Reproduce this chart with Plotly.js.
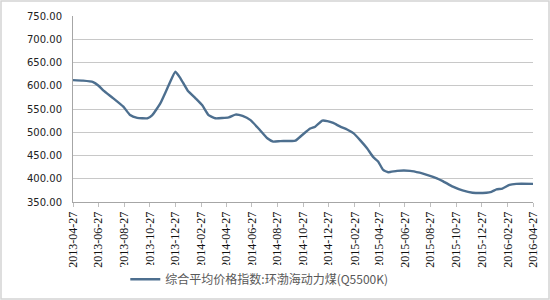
<!DOCTYPE html>
<html>
<head>
<meta charset="utf-8">
<script src="https://cdn.plot.ly/plotly-3.0.1.min.js"></script>
<style>html,body{margin:0;padding:0;background:#fff;}#chart{width:550px;height:300px;}</style>
</head>
<body>
<div id="chart"></div>
<script>
const dates = ['2013-04-27','2013-05-21','2013-06-14','2013-06-27','2013-07-08','2013-08-01','2013-08-25','2013-09-10','2013-09-27','2013-10-21','2013-11-02','2013-11-21','2013-12-08','2013-12-27','2014-01-08','2014-01-25','2014-02-13','2014-03-01','2014-03-16','2014-04-01','2014-05-03','2014-05-19','2014-06-05','2014-06-24','2014-07-13','2014-08-03','2014-08-17','2014-09-03','2014-10-09','2014-10-25','2014-11-13','2014-11-25','2014-12-12','2014-12-24','2015-01-07','2015-01-24','2015-02-09','2015-02-24','2015-03-12','2015-03-29','2015-04-12','2015-04-24','2015-05-06','2015-05-18','2015-06-08','2015-07-09','2015-08-01','2015-08-20','2015-09-11','2015-09-25','2015-10-19','2015-11-11','2015-12-05','2016-01-07','2016-01-19','2016-01-31','2016-02-14','2016-03-02','2016-03-18','2016-04-27'];
const values = [612,611,608,600,590,573,555,537,531,530,537,562,595,630,616,590,573,558,537,530,532,538,535,526,508,487,480,481,482,494,508,512,525,524,520,512,506,498,483,465,447,437,419,414,417,417,413,408,401,395,383,375,370,370,372,377,379,387,389,389];
const tickDates = ['2013-04-27','2013-06-27','2013-08-27','2013-10-27','2013-12-27','2014-02-27','2014-04-27','2014-06-27','2014-08-27','2014-10-27','2014-12-27','2015-02-27','2015-04-27','2015-06-27','2015-08-27','2015-10-27','2015-12-27','2016-02-27','2016-04-27'];
const seriesName = '综合平均价格指数:环渤海动力煤(Q5500K)';

const trace = {
  x: dates, y: values, type: 'scatter', mode: 'lines', name: seriesName,
  line: {color: '#4d6f8f', width: 2.4, shape: 'spline', smoothing: 0.4}
};
const W = 460, H = 186;
const layout = {
  width: 550, height: 300,
  margin: {l: 73, r: 17, t: 16, b: 98, autoexpand: false},
  paper_bgcolor: '#fff', plot_bgcolor: '#fff',
  showlegend: true,
  legend: {orientation: 'h', x: 0.405, xanchor: 'center', y: -0.415, yanchor: 'middle',
           font: {family: 'Noto Sans CJK SC', size: 12, color: '#595959'}},
  xaxis: {type: 'date', range: ['2013-04-27','2016-04-27'], tickvals: tickDates, ticktext: tickDates,
          tickangle: -90, ticks: 'outside', ticklen: 4, tickcolor: '#bfbfbf', automargin: false,
          showline: true, linecolor: '#a6a6a6', showgrid: false, zeroline: false,
          tickfont: {family: 'Liberation Serif', size: 12, color: '#111'}},
  yaxis: {range: [350, 750], dtick: 50, tickformat: '.2f', showline: true, linecolor: '#a6a6a6',
          gridcolor: '#c8c8c8', zeroline: false, ticks: '', ticklabelstandoff: 8, automargin: false,
          tickfont: {family: 'DejaVu Sans', size: 10, color: '#222'}},
  shapes: [{type: 'rect', xref: 'paper', yref: 'paper', x0: -72/W, x1: 1 + 16/W, y0: -97/H, y1: 1 + 15/H,
            line: {color: '#d4d4d4', width: 1.5}}]
};
Plotly.newPlot('chart', [trace], layout, {displayModeBar: false});
</script>
</body>
</html>
